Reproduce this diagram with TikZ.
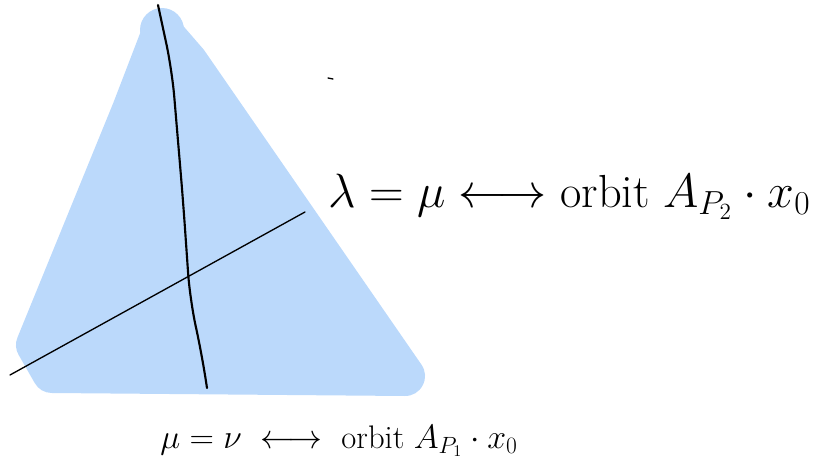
\documentclass[tikz,border=0pt]{standalone}
\usepackage{amsmath,amssymb}
\usepackage{graphicx}
\usepackage{tikz}
\usepackage{xcolor}
\usetikzlibrary{arrows.meta, positioning, calc}
\definecolor{chamberblue}{RGB}{187,217,251}

\begin{document}
\begin{tikzpicture}[
    x=0.75pt, y=-0.75pt,
    chamber/.style={fill=chamberblue, draw=chamberblue, line width=30pt, line join=round},
    wall/.style={draw=black, line width=1.6pt, line cap=round, rounded corners=20pt},
    thinwall/.style={draw=black, line width=1pt, line cap=round},
    label/.style={inner sep=0pt, anchor=base west, font=\fontsize{24}{29}\selectfont}
]
\useasboundingbox (0,0) rectangle (822,467);

% Chamber
\fill[chamberblue] (162,30) circle (22);
\draw[chamber] (162,32) -- (188,62) -- (405,376) -- (52,373) -- (36,345) -- (132,110) -- cycle;

% Walls
\draw[wall] (158,5) -- (172,70) -- (183,200) -- (190,300) -- (202,355) -- (207,388);
\draw[thinwall] (10,375) -- (305,212);
\draw[thinwall] (328,78) -- (333,79);

% Labels
\node[label] (lambda_label) at (328,207) {\scalebox{1.45}{$\lambda=\mu \longleftrightarrow \text{orbit}\; A_{P_2}\cdot x_0$}};
\node[label] (mu_label) at (160,448) {\scalebox{1.02}{$\mu=\nu \;\longleftrightarrow\; \text{orbit}\; A_{P_1}\cdot x_0$}};

\end{tikzpicture}
\end{document}
